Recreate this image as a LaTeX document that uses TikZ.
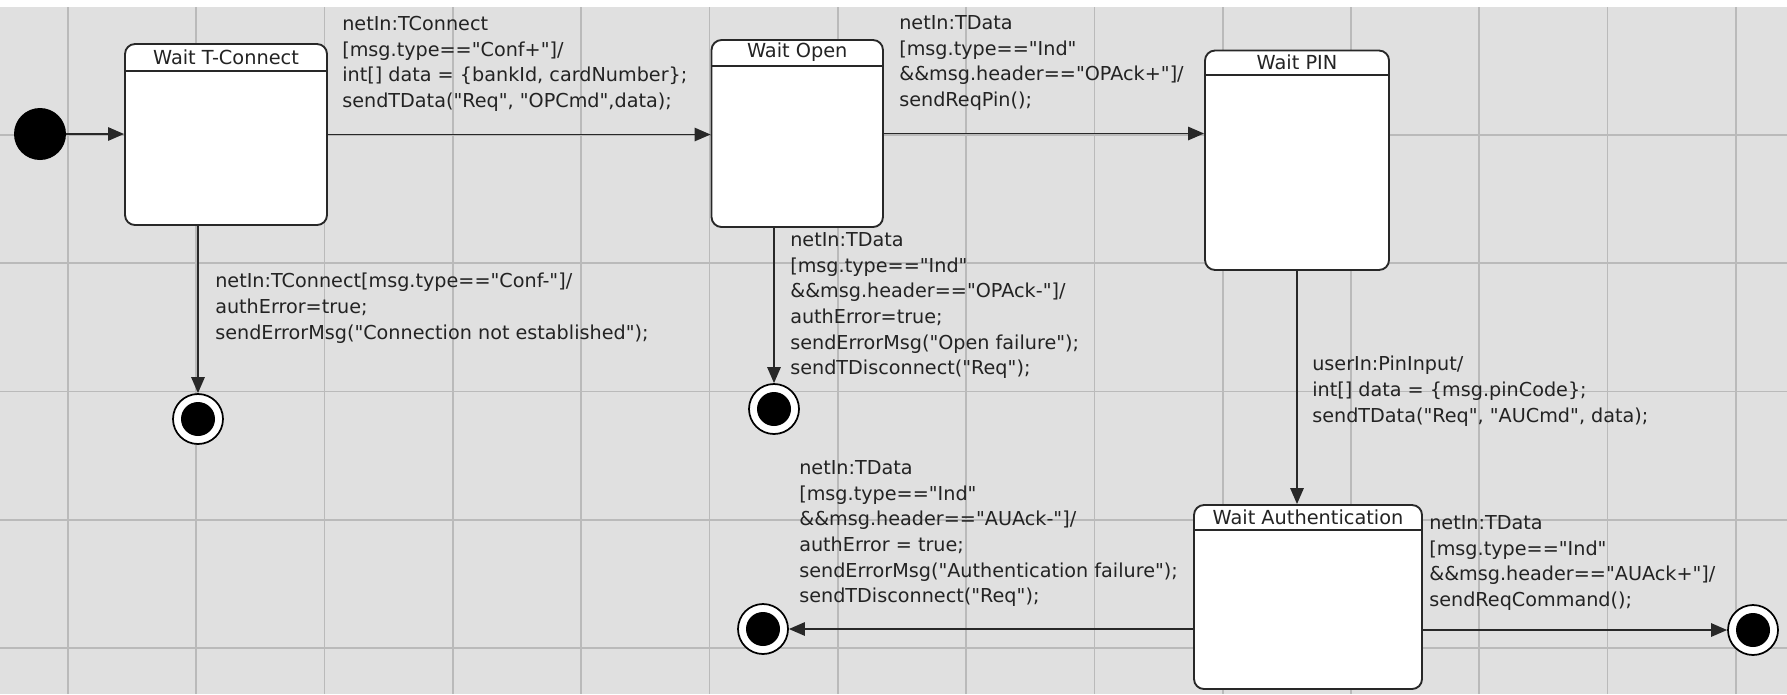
\documentclass[tikz,border=0pt]{standalone}
\usepackage{fontspec}
\newfontfamily\codefont{DejaVu Sans}
\usetikzlibrary{arrows.meta}

\definecolor{bggray}{RGB}{224,224,224}
\definecolor{gridgray}{RGB}{186,186,186}
\definecolor{linegray}{RGB}{40,40,40}
\definecolor{textgray}{RGB}{35,35,35}

\tikzset{
  state/.style={draw=linegray, fill=white, line width=1.4pt, rounded corners=7.5pt, inner sep=0pt},
  statetitle/.style={anchor=north, inner sep=0pt, minimum height=19.5pt, text=textgray, font=\codefont\fontsize{14.5}{16}\selectfont},
  trans/.style={anchor=north west, inner sep=0pt, align=left, text=textgray, font=\codefont\fontsize{14.4}{19.3}\selectfont},
  initstate/.style={circle, fill=black, minimum size=39pt, inner sep=0pt},
  finalstate/.style={circle, draw=black, fill=white, line width=1.3pt, minimum size=37.5pt, inner sep=0pt,
    path picture={\fill[black] (path picture bounding box.center) circle (12.75pt);}},
  flow/.style={draw=linegray, line width=1.4pt, -{Triangle[length=12pt,width=10pt]}},
  gridline/.style={draw=gridgray, line width=1.3pt}
}

\begin{document}
\begin{tikzpicture}[x=0.75pt,y=0.75pt,yscale=-1,xscale=1]
\useasboundingbox (0,0) rectangle (1787,694);

%Shape: Background
\fill[bggray] (0,7) rectangle (1787,694);
%Straight Lines (grid)
\draw[gridline] (68,7) -- (68,694);
\draw[gridline] (196.3,7) -- (196.3,694);
\draw[gridline] (324.6,7) -- (324.6,694);
\draw[gridline] (452.9,7) -- (452.9,694);
\draw[gridline] (581.2,7) -- (581.2,694);
\draw[gridline] (709.5,7) -- (709.5,694);
\draw[gridline] (837.8,7) -- (837.8,694);
\draw[gridline] (966.1,7) -- (966.1,694);
\draw[gridline] (1094.4,7) -- (1094.4,694);
\draw[gridline] (1222.7,7) -- (1222.7,694);
\draw[gridline] (1351,7) -- (1351,694);
\draw[gridline] (1479.3,7) -- (1479.3,694);
\draw[gridline] (1607.6,7) -- (1607.6,694);
\draw[gridline] (1735.9,7) -- (1735.9,694);
\draw[gridline] (0,135) -- (1787,135);
\draw[gridline] (0,263.3) -- (1787,263.3);
\draw[gridline] (0,391.6) -- (1787,391.6);
\draw[gridline] (0,519.9) -- (1787,519.9);
\draw[gridline] (0,648.2) -- (1787,648.2);

%Shape: States
\node[state, minimum width=151.5pt, minimum height=135.75pt] (tcon) at (226,134.5) {};
\node[state, minimum width=128.6pt, minimum height=140.25pt] (open) at (797.25,133.5) {};
\node[state, minimum width=138pt, minimum height=164.6pt] (pin) at (1297,160.25) {};
\node[state, minimum width=171pt, minimum height=138pt] (auth) at (1308,597) {};

% Text Node (state titles)
\node[statetitle, minimum height=20.25pt] (tconT) at (tcon.north) {Wait T-Connect};
\node[statetitle] (openT) at (open.north) {Wait Open};
\node[statetitle, minimum height=18.75pt] (pinT) at (pin.north) {Wait PIN};
\node[statetitle, minimum height=18.75pt] (authT) at (auth.north) {Wait Authentication};
\draw[draw=linegray, line width=1.4pt] (tcon.west |- tconT.south) -- (tcon.east |- tconT.south);
\draw[draw=linegray, line width=1.4pt] (open.west |- openT.south) -- (open.east |- openT.south);
\draw[draw=linegray, line width=1.4pt] (pin.west |- pinT.south) -- (pin.east |- pinT.south);
\draw[draw=linegray, line width=1.4pt] (auth.west |- authT.south) -- (auth.east |- authT.south);

%Shape: Initial and final states
\node[initstate] (init) at (40,134) {};
\node[finalstate] (fin1) at (198,419) {};
\node[finalstate] (fin2) at (774,409) {};
\node[finalstate] (fin3) at (763,629) {};
\node[finalstate] (fin4) at (1753,630) {};

%Straight Lines (transitions)
\draw[flow] (init) -- (init -| tcon.west);
\draw[flow] (tcon.east) -- (tcon.east -| open.west);
\draw[flow] (open.east) -- (open.east -| pin.west);
\draw[flow] (tcon.south -| fin1) -- (fin1);
\draw[flow] (open.south -| fin2) -- (fin2);
\draw[flow] (pin.south) -- (pin.south |- auth.north);
\draw[flow] (auth.west |- fin3) -- (fin3);
\draw[flow] (auth.east |- fin4) -- (fin4);

% Text Node
\node[trans] (l1) at (342,16) {netIn:TConnect\\{[}msg.type=="Conf+"{]}/\\int{[}{]} data = \{bankId, cardNumber\};\\sendTData("Req", "OPCmd",data);};
% Text Node
\node[trans] (l2) at (899,15) {netIn:TData\\{[}msg.type=="Ind"\\\&\&msg.header=="OPAck+"{]}/\\sendReqPin();};
% Text Node
\node[trans] (l3) at (215,273) {netIn:TConnect{[}msg.type=="Conf-"{]}/\\authError=true;\\sendErrorMsg("Connection not established");};
% Text Node
\node[trans] (l4) at (790,232) {netIn:TData\\{[}msg.type=="Ind"\\\&\&msg.header=="OPAck-"{]}/\\authError=true;\\sendErrorMsg("Open failure");\\sendTDisconnect("Req");};
% Text Node
\node[trans] (l5) at (1312,356) {userIn:PinInput/\\int{[}{]} data = \{msg.pinCode\};\\sendTData("Req", "AUCmd", data);};
% Text Node
\node[trans] (l6) at (799,460) {netIn:TData\\{[}msg.type=="Ind"\\\&\&msg.header=="AUAck-"{]}/\\authError = true;\\sendErrorMsg("Authentication failure");\\sendTDisconnect("Req");};
% Text Node
\node[trans] (l7) at (1429,515) {netIn:TData\\{[}msg.type=="Ind"\\\&\&msg.header=="AUAck+"{]}/\\sendReqCommand();};

\end{tikzpicture}
\end{document}
